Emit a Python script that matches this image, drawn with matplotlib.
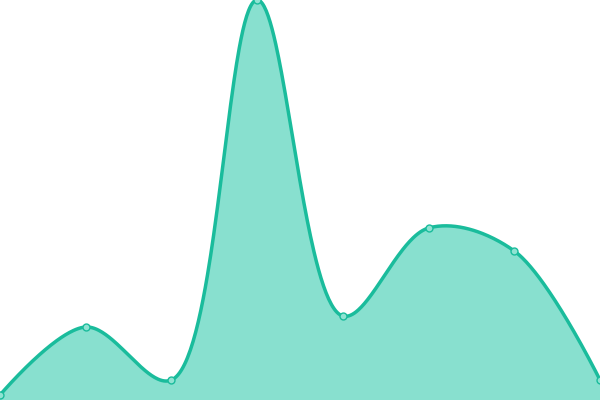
import numpy as np
from matplotlib import pyplot as plt

# values (no axes shown)
categories = ['A', 'B', 'C', 'D', 'E', 'F', 'G', 'H']
values = [5, 73, 20, 400, 84, 172, 149, 20]

line_color = '#1abc9c'
fill_color = '#88e0cf'

W, H = 600, 400
alpha = 0.5


def catmull_rom(xs, ys, steps=80):
    # centripetal catmull-rom, computed in pixel space
    pts = np.column_stack([xs, ys]).astype(float)
    n = len(pts)
    ext = np.vstack([pts[0], pts, pts[-1]])
    out = []
    t = np.linspace(0, 1, steps)
    for i in range(n - 1):
        p0, p1, p2, p3 = ext[i], ext[i + 1], ext[i + 2], ext[i + 3]
        l01 = np.linalg.norm(p1 - p0) ** alpha
        l12 = np.linalg.norm(p2 - p1) ** alpha
        l23 = np.linalg.norm(p3 - p2) ** alpha
        c1 = p1.copy()
        c2 = p2.copy()
        if l01 > 1e-9:
            a = 2 * l01**2 + 3 * l01 * l12 + l12**2
            c1 = (p1 * a - p0 * l12**2 + p2 * l01**2) / (3 * l01 * (l01 + l12))
        if l23 > 1e-9:
            b = 2 * l23**2 + 3 * l23 * l12 + l12**2
            c2 = (p2 * b + p1 * l23**2 - p3 * l12**2) / (3 * l23 * (l23 + l12))
        seg = (np.outer((1 - t)**3, p1) + np.outer(3 * (1 - t)**2 * t, c1)
               + np.outer(3 * (1 - t) * t**2, c2) + np.outer(t**3, p2))
        out.append(seg)
    return np.vstack(out)


x = np.arange(len(categories))
ymax = 400
kx = W / (len(categories) - 1)
ky = H / ymax
curve = catmull_rom(x * kx, np.array(values) * ky)
sx, sy = curve[:, 0] / kx, curve[:, 1] / ky

fig = plt.figure(figsize=(6, 4), dpi=100)
ax = fig.add_axes([0, 0, 1, 1])
ax.fill_between(sx, sy, 0, color=fill_color, lw=0)
ax.plot(sx, sy, color=line_color, lw=2.5, solid_capstyle='round')
ax.plot(x, values, 'o', ms=5, mfc='#8fe3d2', mec=line_color, mew=1, clip_on=False)
ax.set_xlim(0, len(categories) - 1)
ax.set_ylim(0, ymax)
ax.axis('off')

fig.savefig('out.png')
